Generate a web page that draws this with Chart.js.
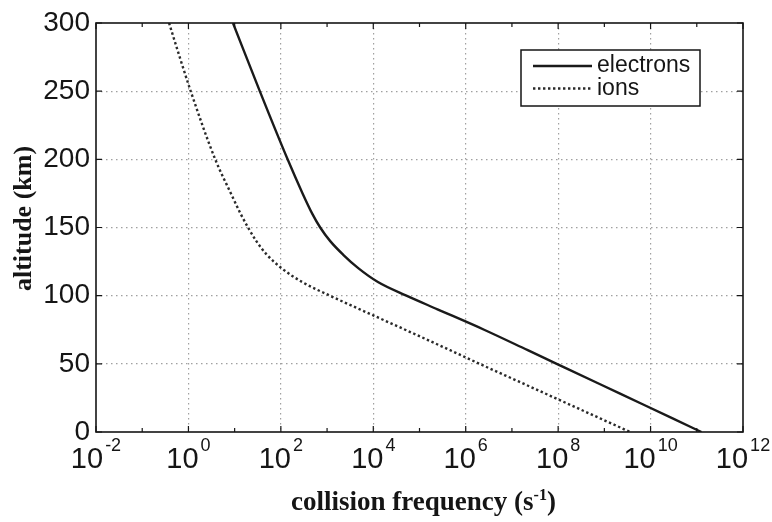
<!DOCTYPE html>
<html>
<head>
<meta charset="utf-8">
<script src="https://cdn.jsdelivr.net/npm/chart.js@4"></script>
<style>
  html, body { margin: 0; padding: 0; background: #fff; }
</style>
</head>
<body>
<canvas id="chart" width="772" height="522"></canvas>
<script>
// altitude (km) shared by both curves
const altitudes = [300, 250, 200, 175, 160, 150, 140, 130, 120, 110, 100, 90, 75, 60, 50, 35, 20, 10, 0];
// collision frequency (s^-1)
const electrons = [9.2, 35, 140, 295, 480, 710, 1170, 2240, 4800, 1.26e4, 5.2e4, 2.45e5, 2.5e6, 2.2e7, 9.3e7, 8.1e8, 7.1e9, 3.0e10, 1.26e11];
const ions = [0.38, 1.12, 3.8, 8.3, 13.5, 19.5, 29.5, 50, 105, 290, 1150, 5100, 4.9e4, 4.6e5, 2.0e6, 1.9e7, 1.8e8, 8.1e8, 3.6e9];

const xExponents = [-2, -1, 0, 1, 2, 3, 4, 5, 6, 7, 8, 9, 10, 11, 12];
const yTicks = [0, 50, 100, 150, 200, 250, 300];

const sans = '"Liberation Sans", Arial, sans-serif';
const serif = '"Liberation Serif", "Times New Roman", serif';
const ink = '#151515';

// frame with inward ticks, 10^n labels, axis titles and the boxed legend
const framePlugin = {
    id: 'frame',
    afterDraw(chart) {
        const { ctx, chartArea: a, scales: { x, y } } = chart;
        ctx.save();

        ctx.strokeStyle = ink;
        ctx.lineWidth = 1.6;
        ctx.strokeRect(a.left, a.top, a.right - a.left, a.bottom - a.top);

        ctx.lineWidth = 1.2;
        ctx.beginPath();
        xExponents.forEach(e => {
            const px = x.getPixelForValue(10 ** e);
            const len = e % 2 === 0 ? 6 : 4;
            ctx.moveTo(px, a.bottom); ctx.lineTo(px, a.bottom - len);
            ctx.moveTo(px, a.top); ctx.lineTo(px, a.top + len);
        });
        yTicks.forEach(v => {
            const py = y.getPixelForValue(v);
            ctx.moveTo(a.left, py); ctx.lineTo(a.left + 6, py);
            ctx.moveTo(a.right, py); ctx.lineTo(a.right - 6, py);
        });
        ctx.stroke();

        // tick labels 10^n
        ctx.fillStyle = ink;
        ctx.textAlign = 'left';
        ctx.textBaseline = 'alphabetic';
        xExponents.filter(e => e % 2 === 0).forEach(e => {
            const base = '10', sup = String(e);
            ctx.font = `29px ${sans}`;
            const wb = ctx.measureText(base).width;
            ctx.font = `18px ${sans}`;
            const ws = ctx.measureText(sup).width;
            const left = x.getPixelForValue(10 ** e) - (wb + 2 + ws) / 2;
            ctx.font = `29px ${sans}`;
            ctx.fillText(base, left, a.bottom + 36);
            ctx.font = `18px ${sans}`;
            ctx.fillText(sup, left + wb + 2, a.bottom + 19);
        });

        // x title with superscript
        const t1 = 'collision frequency (s', t2 = '-1', t3 = ')';
        ctx.font = `bold 27px ${serif}`;
        const w1 = ctx.measureText(t1).width, w3 = ctx.measureText(t3).width;
        ctx.font = `bold 16px ${serif}`;
        const w2 = ctx.measureText(t2).width;
        const tx = (a.left + a.right) / 2 + 4 - (w1 + w2 + w3) / 2;
        const ty = a.bottom + 78;
        ctx.font = `bold 27px ${serif}`;
        ctx.fillText(t1, tx, ty);
        ctx.font = `bold 16px ${serif}`;
        ctx.fillText(t2, tx + w1, ty - 10);
        ctx.font = `bold 27px ${serif}`;
        ctx.fillText(t3, tx + w1 + w2, ty);

        // y title
        ctx.save();
        ctx.translate(31, (a.top + a.bottom) / 2 - 9);
        ctx.rotate(-Math.PI / 2);
        ctx.textAlign = 'center';
        ctx.font = `bold 26px ${serif}`;
        ctx.fillText('altitude (km)', 0, 0);
        ctx.restore();

        // legend
        const lx = 521, ly = 50, lw = 179, lh = 56;
        ctx.fillStyle = '#fff';
        ctx.fillRect(lx, ly, lw, lh);
        ctx.strokeStyle = ink;
        ctx.lineWidth = 1.5;
        ctx.strokeRect(lx, ly, lw, lh);
        ctx.textBaseline = 'middle';
        ctx.font = `23px ${sans}`;
        chart.data.datasets.forEach((ds, i) => {
            const yy = ly + 16 + i * 22.5;
            ctx.setLineDash(ds.borderDash || []);
            ctx.lineWidth = ds.borderWidth;
            ctx.strokeStyle = ds.borderColor;
            ctx.beginPath();
            ctx.moveTo(lx + 12, yy);
            ctx.lineTo(lx + 71, yy);
            ctx.stroke();
            ctx.setLineDash([]);
            ctx.fillStyle = ink;
            ctx.fillText(ds.label, lx + 76, yy);
        });

        ctx.restore();
    }
};

const gridColor = '#a0a0a0';

new Chart(document.getElementById('chart'), {
    type: 'scatter',
    data: {
        datasets: [
            {
                label: 'electrons',
                data: altitudes.map((alt, i) => ({ x: electrons[i], y: alt })),
                showLine: true,
                borderColor: '#1a1a1a',
                borderWidth: 2.4,
                pointRadius: 0,
                cubicInterpolationMode: 'monotone'
            },
            {
                label: 'ions',
                data: altitudes.map((alt, i) => ({ x: ions[i], y: alt })),
                showLine: true,
                borderColor: '#2a2a2a',
                borderWidth: 2.4,
                borderDash: [2.4, 2.6],
                pointRadius: 0,
                cubicInterpolationMode: 'monotone'
            }
        ]
    },
    options: {
        responsive: false,
        animation: false,
        layout: { padding: { left: 0, right: 29, top: 23, bottom: 0 } },
        plugins: { legend: { display: false }, tooltip: { enabled: false } },
        scales: {
            x: {
                type: 'logarithmic',
                min: 1e-2,
                max: 1e12,
                afterBuildTicks: s => { s.ticks = xExponents.map(e => ({ value: 10 ** e })); },
                afterFit: s => { s.height = 90; },
                ticks: { display: false },
                grid: {
                    drawTicks: false,
                    lineWidth: 1.2,
                    color: c => {
                        if (!c.tick) return 'rgba(0,0,0,0)';
                        const e = Math.round(Math.log10(c.tick.value));
                        return (e % 2 === 0 && e > -2 && e < 12) ? gridColor : 'rgba(0,0,0,0)';
                    }
                },
                border: { display: false, dash: [1.5, 3.5] }
            },
            y: {
                min: 0,
                max: 300,
                afterBuildTicks: s => { s.ticks = yTicks.map(v => ({ value: v })); },
                afterFit: s => { s.width = 96; },
                ticks: { font: { family: sans, size: 28 }, color: ink, padding: 6 },
                grid: {
                    drawTicks: false,
                    lineWidth: 1.2,
                    color: c => (c.tick && c.tick.value > 0 && c.tick.value < 300) ? gridColor : 'rgba(0,0,0,0)'
                },
                border: { display: false, dash: [1.5, 3.5] }
            }
        }
    },
    plugins: [framePlugin]
});
</script>
</body>
</html>
